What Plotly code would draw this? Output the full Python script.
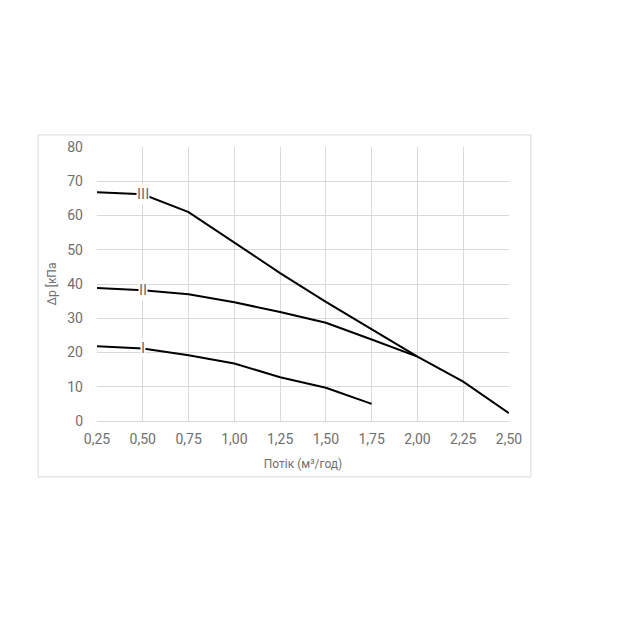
import plotly.graph_objects as go

flow = [0.25, 0.50, 0.75, 1.00, 1.25, 1.50, 1.75, 2.00, 2.25, 2.50]

# speed curves, kPa
speed_1 = [21.8, 21.2, 19.2, 16.8, 12.8, 9.7, 5.0]
speed_2 = [38.8, 38.2, 37.0, 34.7, 31.8, 28.7, 23.8, 18.8]
speed_3 = [66.8, 66.2, 61.0, 52.0, 43.2, 34.8, 26.8, 18.8, 11.5, 2.3]

names = ["I", "II", "III"]
label_x = 0.50

grey = "#6f6f6f"
grid = "#d9d9d9"

fig = go.Figure()
for name, vals in zip(names, [speed_1, speed_2, speed_3]):
    fig.add_trace(go.Scatter(x=flow[:len(vals)], y=vals, mode="lines",
                             line=dict(color="black", width=2),
                             name=name, showlegend=False))
    fig.add_annotation(x=label_x, y=vals[flow.index(label_x)], text=name,
                       showarrow=False, bgcolor="white", borderpad=0,
                       font=dict(color=grey, size=15))

# outer chart border
fig.add_shape(type="rect", xref="paper", yref="paper",
              x0=-0.143, x1=1.053, y0=-0.204, y1=1.044,
              line=dict(color=grid, width=1), layer="below")

fig.update_layout(
    width=640, height=640,
    margin=dict(l=89, r=139, t=139, b=227),
    plot_bgcolor="white", paper_bgcolor="white",
    separators=", ",
    font=dict(family="Roboto", color=grey, size=14),
)
fig.update_xaxes(range=[0.25, 2.5], tickvals=flow, tickformat=".2f",
                 showgrid=True, gridcolor=grid, zeroline=False,
                 showline=False, ticks="", ticklabelstandoff=8,
                 title=dict(text="Потік (м³/год)", standoff=13,
                            font=dict(size=12)))
fig.update_yaxes(range=[0, 80], dtick=10, showgrid=True, gridcolor=grid,
                 zeroline=True, zerolinecolor=grid, zerolinewidth=1,
                 ticks="", ticklabelstandoff=13,
                 title=dict(text="Δp [кПа", standoff=8,
                            font=dict(size=12)))

fig.write_html("out.html")
